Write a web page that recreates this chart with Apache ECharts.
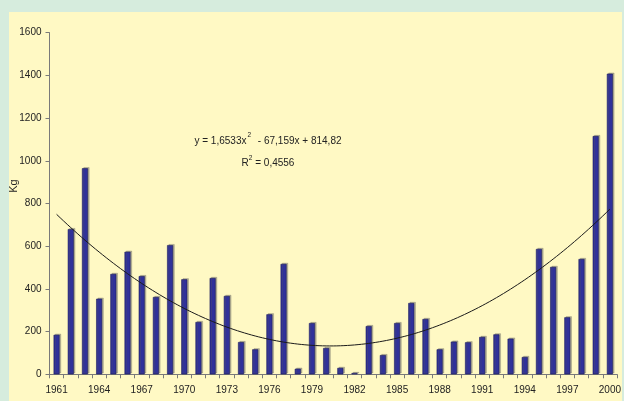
<!DOCTYPE html>
<html>
<head>
<meta charset="utf-8">
<style>
  html, body { margin: 0; padding: 0; background: #d6ecdd; }
  #frame { position: absolute; left: 9px; top: 12px; width: 613px; height: 389px; background: #fff9c4; }
  #chart { position: absolute; left: 0; top: 0; width: 624px; height: 401px; }
</style>
<script src="https://cdn.jsdelivr.net/npm/echarts@6/dist/echarts.min.js"></script>
</head>
<body>
<div id="frame"></div>
<div id="chart"></div>
<script>
// Annual catch in kg, 1961-2000
const years = [];
for (let y = 1961; y <= 2000; y++) years.push(String(y));

const catchKg = [
  185, 680, 965, 354, 470, 574, 460, 362, 605, 445,
  245, 451, 367, 151, 117, 281, 517, 26, 240, 123,
  30, 6, 226, 90, 240, 334, 259, 117, 153, 150,
  175, 187, 167, 81, 587, 503, 267, 540, 1116, 1408
];

// Polynomial trend coefficients (order 2), x = 1 for 1961
const trendCoef = [814.82, -67.159, 1.6533];
const trendLabel = ['y = 1,6533x', '2', ' - 67,159x + 814,82'];
const r2Label = ['R', '2', ' = 0,4556'];

const yTicks = { min: 0, max: 1600, step: 200 };

const trendPts = [];
for (let x = 1; x <= years.length + 1e-9; x += 0.25) {
  trendPts.push([x, trendCoef[0] + trendCoef[1] * x + trendCoef[2] * x * x]);
}

const chart = echarts.init(document.getElementById('chart'), null, { renderer: 'canvas' });
const font = 'Liberation Sans, Arial, sans-serif';
const axisColor = '#7a7a7a';

chart.setOption({
  backgroundColor: 'transparent',
  animation: false,
  grid: { left: 49.5, right: 6.5, top: 32.7, bottom: 26.7 },
  xAxis: [
    {
      type: 'category',
      data: years,
      boundaryGap: true,
      axisLine: { lineStyle: { color: axisColor, width: 1 } },
      axisTick: { show: true, interval: 0, length: 4, inside: false, lineStyle: { color: axisColor } },
      axisLabel: { interval: 2, margin: 11, fontSize: 10, color: '#222', fontFamily: font },
      splitLine: { show: false }
    },
    {
      type: 'value', min: 0.5, max: years.length + 0.5, show: false
    }
  ],
  yAxis: {
    type: 'value',
    min: yTicks.min, max: yTicks.max, interval: yTicks.step,
    axisLine: { show: true, lineStyle: { color: axisColor, width: 1 } },
    axisTick: { show: true, length: 4, lineStyle: { color: axisColor } },
    axisLabel: { margin: 8, fontSize: 10, color: '#222', fontFamily: font, formatter: v => String(v) },
    splitLine: { show: false }
  },
  series: [
    {
      type: 'bar',
      data: catchKg,
      barWidth: 6,
      itemStyle: {
        color: '#30319a',
        borderColor: '#1c1d5c',
        borderWidth: 0.6,
        shadowColor: 'rgba(90,90,90,0.45)',
        shadowOffsetX: 1.5,
        shadowOffsetY: -1,
        shadowBlur: 0
      }
    },
    {
      type: 'line',
      xAxisIndex: 1,
      data: trendPts,
      showSymbol: false,
      smooth: false,
      lineStyle: { color: '#1a1a1a', width: 1 },
      z: 5
    }
  ],
  graphic: [
    {
      type: 'text',
      x: 14, y: 186,
      rotation: Math.PI / 2,
      style: {
        text: 'Kg', fontSize: 11, fill: '#222', fontFamily: font,
        align: 'center', verticalAlign: 'middle'
      }
    },
    {
      type: 'text',
      x: 268, y: 139,
      style: {
        text: '{a|' + trendLabel[0] + '}{s|' + trendLabel[1] + '}{a|' + trendLabel[2] + '}',
        align: 'center', verticalAlign: 'middle',
        rich: {
          a: { fontSize: 10, fill: '#222', fontFamily: font, lineHeight: 14, verticalAlign: 'bottom' },
          s: { fontSize: 6.5, fill: '#222', fontFamily: font, lineHeight: 14, verticalAlign: 'top', padding: [0, 4, 0, 1] }
        }
      }
    },
    {
      type: 'text',
      x: 268, y: 161.5,
      style: {
        text: '{a|' + r2Label[0] + '}{s|' + r2Label[1] + '}{a|' + r2Label[2] + '}',
        align: 'center', verticalAlign: 'middle',
        rich: {
          a: { fontSize: 10, fill: '#222', fontFamily: font, lineHeight: 14, verticalAlign: 'bottom' },
          s: { fontSize: 6.5, fill: '#222', fontFamily: font, lineHeight: 14, verticalAlign: 'top', padding: [0, 0, 0, 0] }
        }
      }
    }
  ]
});
</script>
</body>
</html>
